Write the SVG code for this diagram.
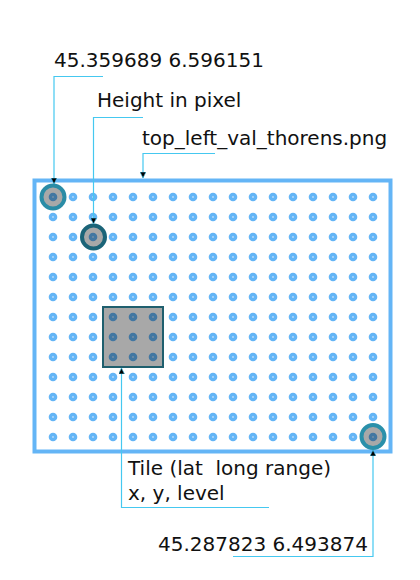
<svg xmlns="http://www.w3.org/2000/svg" width="420" height="580" viewBox="0 0 420 580">
<style>
.lbl{font-family:"DejaVu Sans",sans-serif;font-size:20px;fill:#111;white-space:pre}
.con{fill:none;stroke:#45c8f0;stroke-width:1.2}
.big{fill:#000;fill-opacity:0.34;stroke-width:4}
</style>
<defs>
<pattern id="dots" x="43" y="187" width="20" height="20" patternUnits="userSpaceOnUse">
<circle cx="10" cy="10" r="4.3" fill="#64b5f6"/>
<circle cx="10" cy="10" r="0.8" fill="#e3f2fd"/>
</pattern>
<marker id="arr" viewBox="0 0 10 10" refX="10" refY="5" markerWidth="6" markerHeight="6" orient="auto" markerUnits="userSpaceOnUse">
<path d="M0,0 L10,5 L0,10 z" fill="#000" stroke="#45c8f0" stroke-width="1"/>
</marker>
</defs>
<g id="frame">
<rect x="34.5" y="180.5" width="356" height="271" fill="#fff" stroke="#64b5f6" stroke-width="4"/>
<rect x="43" y="187" width="340" height="260" fill="url(#dots)"/>
</g>
<g id="tile">
<rect x="103" y="307" width="60" height="60" fill="#000" fill-opacity="0.34" stroke="#1f5f6e" stroke-width="2"/>
</g>
<g id="topleft">
<circle cx="53" cy="197" r="11.5" class="big" stroke="#2a8ca6"/>
</g>
<g id="height">
<circle cx="93.5" cy="237" r="11.5" class="big" stroke="#1b6478"/>
</g>
<g id="bottomright">
<circle cx="373" cy="436.5" r="11.5" class="big" stroke="#2a90aa"/>
</g>
<g id="connectors">
<path class="con" d="M103,76.5 H54 V184" marker-end="url(#arr)"/>
<path class="con" d="M143,117.5 H93.5 V224" marker-end="url(#arr)"/>
<path class="con" d="M215,153.5 H143 V178" marker-end="url(#arr)"/>
<path class="con" d="M269,507.5 H121.5 V368" marker-end="url(#arr)"/>
<path class="con" d="M233,556.5 H373 V450" marker-end="url(#arr)"/>
</g>
<g id="labels">
<text class="lbl" x="54" y="67">45.359689 6.596151</text>
<text class="lbl" x="97" y="107">Height in pixel</text>
<text class="lbl" x="142" y="145">top_left_val_thorens.png</text>
<text class="lbl" x="128" y="475">Tile (lat  long range)</text>
<text class="lbl" x="128" y="500">x, y, level</text>
<text class="lbl" x="158" y="551">45.287823 6.493874</text>
</g>
</svg>
